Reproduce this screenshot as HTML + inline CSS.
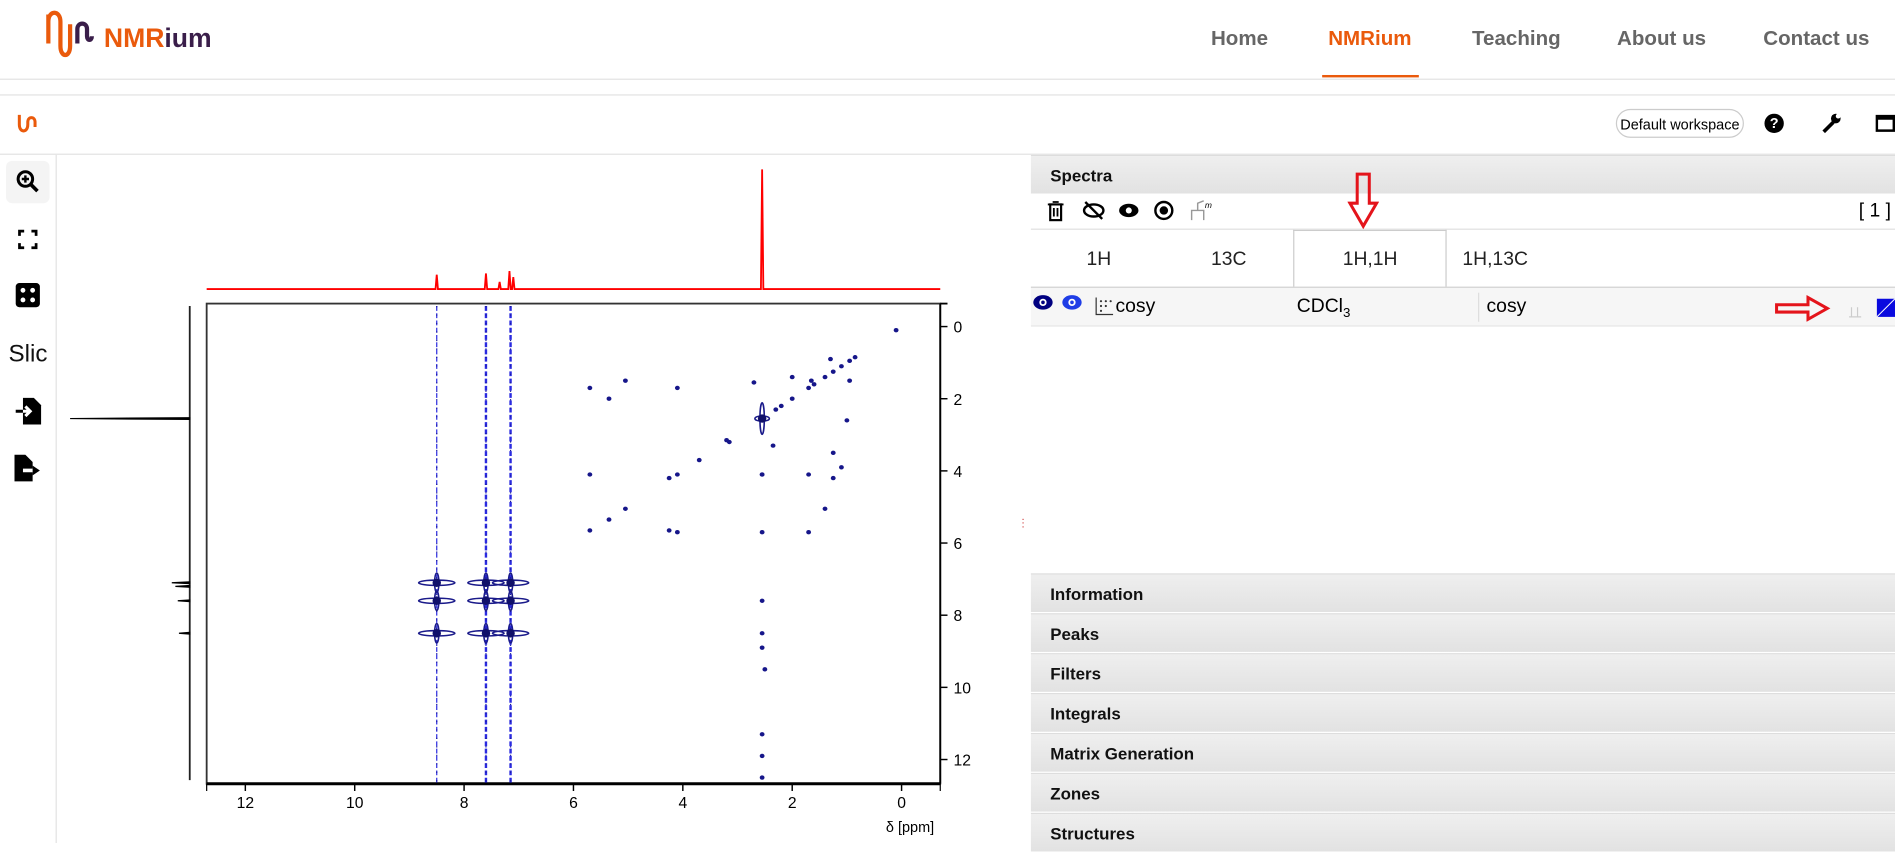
<!DOCTYPE html>
<html><head><meta charset="utf-8">
<style>
html,body{margin:0;padding:0;width:1895px;height:843px;overflow:hidden;background:#fff;font-family:"Liberation Sans",sans-serif}
#wrap{position:absolute;left:0;top:0;width:1568px;height:697px;transform:scale(1.20855,1.2095);transform-origin:0 0}
.abs{position:absolute}
.nav{position:absolute;top:22px;font-size:17px;color:#666;font-weight:bold}
.hdr{position:absolute;left:853px;width:715px;height:32px;background:linear-gradient(#efefef,#e2e2e2);border-top:1px solid #ddd;font-weight:bold;font-size:14px;line-height:32px;box-sizing:border-box;padding-left:16px;color:#111}
.tab{position:absolute;top:206px;font-size:16px;color:#222}
</style></head><body>
<div id="wrap">
<!-- header -->
<svg class="abs" style="left:36px;top:8px" width="145" height="42">
<path d="M4 4 V28 M4 10 C4 0 14 0 14 10 V30 C14 40 22 40 22 30 V12" stroke="#ea5a0c" stroke-width="3.5" fill="none"/>
<path d="M28 28 V16 C28 10 36 10 36 16 V22 C36 26 40 26 40 22" stroke="#3a1e4a" stroke-width="3.5" fill="none"/>
<text x="50" y="31" font-size="22" font-weight="bold" fill="#ea5a0c" font-family="Liberation Sans">NMR<tspan fill="#3a1e4a">ium</tspan></text>
</svg>
<div class="nav" style="left:1002px">Home</div>
<div class="nav" style="left:1099px;color:#ea5a0c">NMRium</div>
<div class="abs" style="left:1094px;top:62px;width:80px;height:2px;background:#ea5a0c"></div>
<div class="nav" style="left:1218px">Teaching</div>
<div class="nav" style="left:1338px">About us</div>
<div class="nav" style="left:1459px">Contact us</div>
<div class="abs" style="left:0;top:65px;width:1568px;height:1px;background:#e2e2e2"></div>
<div class="abs" style="left:0;top:78px;width:1568px;height:1px;background:#e2e2e2"></div>
<!-- toolbar -->
<svg class="abs" style="left:14px;top:93px" width="18" height="20"><path d="M2 2 V10 C2 17 9 17 9 10 V8 C9 3 15 3 15 8 V12" stroke="#ea5a0c" stroke-width="2.5" fill="none"/></svg>
<div class="abs" style="left:1337px;top:90px;width:106px;height:24px;border:1px solid #ccc;border-radius:12px;font-size:12px;line-height:24px;text-align:center;box-sizing:border-box">Default workspace</div>
<div class="abs" style="left:1460px;top:94px;width:16px;height:16px;border-radius:8px;background:#000;color:#fff;font-size:12px;font-weight:bold;text-align:center;line-height:16px">?</div>
<svg class="abs" style="left:1506px;top:93px" width="18" height="18"><path d="M3 16 L11 8" stroke="#000" stroke-width="3"/><circle cx="13" cy="5" r="4" fill="#000"/><circle cx="15" cy="3" r="2" fill="#fff"/></svg>
<div class="abs" style="left:1552px;top:95px;width:16px;height:14px;border:2px solid #000;border-top-width:4px;box-sizing:border-box"></div>
<div class="abs" style="left:0;top:127px;width:1568px;height:1px;background:#e2e2e2"></div>
<!-- left sidebar -->
<div class="abs" style="left:46px;top:128px;width:1px;height:569px;background:#e2e2e2"></div>
<div class="abs" style="left:5px;top:133px;width:36px;height:35px;background:#f4f4f4;border-radius:5px"></div>
<svg class="abs" style="left:13px;top:140px" width="20" height="20"><circle cx="8" cy="8" r="6" stroke="#000" stroke-width="2.5" fill="none"/><path d="M12 12 L18 18" stroke="#000" stroke-width="3"/><path d="M8 5 V11 M5 8 H11" stroke="#000" stroke-width="2"/></svg>
<svg class="abs" style="left:15px;top:190px" width="16" height="16"><path d="M1 5 V1 H5 M11 1 H15 V5 M15 11 V15 H11 M5 15 H1 V11" stroke="#000" stroke-width="2.5" fill="none"/></svg>
<svg class="abs" style="left:12px;top:233px" width="22" height="22"><rect x="1" y="1" width="20" height="20" rx="3" fill="#000"/><circle cx="7" cy="7" r="2" fill="#fff"/><circle cx="15" cy="7" r="2" fill="#fff"/><circle cx="7" cy="15" r="2" fill="#fff"/><circle cx="15" cy="15" r="2" fill="#fff"/></svg>
<div class="abs" style="left:7px;top:282px;font-size:20px;color:#111">Slic</div>
<svg class="abs" style="left:12px;top:328px" width="24" height="24"><path d="M7 1 H16 L22 7 V23 H7 Z" fill="#000"/><path d="M1 12 H12 M9 8 L13 12 L9 16" stroke="#fff" stroke-width="2.5" fill="none"/><path d="M1 12 H7" stroke="#000" stroke-width="2.5"/></svg>
<svg class="abs" style="left:11px;top:375px" width="24" height="24"><path d="M1 1 H10 L16 7 V23 H1 Z" fill="#000"/><path d="M8 14 H20" stroke="#fff" stroke-width="3"/><path d="M16 10 L22 14 L16 18 Z" fill="#000"/></svg>
<!-- chart -->
<svg id="chart" class="abs" style="left:47px;top:128px" width="796" height="569"></svg>
<!-- splitter -->
<div class="abs" style="left:845px;top:428px;font-size:9px;color:#c33;line-height:3px">·<br>·<br>·</div>
<!-- right panel -->
<div class="abs" style="left:853px;top:128px;width:715px;height:569px;background:#fff"></div>
<div class="hdr" style="top:128px">Spectra</div>
<svg class="abs" style="left:864px;top:164px" width="145" height="22">
<g><rect x="5" y="5" width="9" height="13" stroke="#000" stroke-width="1.8" fill="none"/><path d="M3 5 H16 M7 3 H12 M8 8 V15 M11 8 V15" stroke="#000" stroke-width="1.5"/></g>
<g><ellipse cx="41" cy="10" rx="8" ry="5" stroke="#000" stroke-width="2" fill="none"/><path d="M34 3 L48 17" stroke="#000" stroke-width="2"/></g>
<g><ellipse cx="70" cy="10" rx="8" ry="5.5" fill="#000"/><circle cx="70" cy="10" r="2.5" fill="#fff"/></g>
<g><circle cx="99" cy="10" r="7" stroke="#000" stroke-width="2" fill="none"/><circle cx="99" cy="10" r="3.5" fill="#000"/></g>
<g><path d="M122 18 V10 H132 V18 M127 10 V4 L132 2" stroke="#999" stroke-width="1.2" fill="none"/><text x="133" y="8" font-size="7" font-style="italic">m</text></g>
</svg>
<div class="abs" style="left:1538px;top:166px;font-size:16px">[ 1 ]</div>
<div class="abs" style="left:853px;top:189px;width:715px;height:1px;background:#e0e0e0"></div>
<div class="abs" style="left:1070px;top:190px;width:127px;height:47px;border:1px solid #ccc;border-bottom:none;box-sizing:border-box;background:#fff"></div>
<div class="tab" style="left:899px">1H</div>
<div class="tab" style="left:1002px">13C</div>
<div class="tab" style="left:1111px">1H,1H</div>
<div class="tab" style="left:1210px">1H,13C</div>
<div class="abs" style="left:853px;top:237px;width:715px;height:1px;background:#ccc"></div>
<div class="abs" style="left:853px;top:238px;width:715px;height:31px;background:#f6f6f6;border-bottom:1px solid #e6e6e6"></div>
<svg class="abs" style="left:853px;top:243px" width="70" height="20">
<g><ellipse cx="10" cy="7" rx="8" ry="6" fill="#000080"/><circle cx="10" cy="7" r="3" fill="#fff"/><circle cx="10" cy="7" r="1.5" fill="#000080"/></g>
<g><ellipse cx="34" cy="7" rx="8" ry="6" fill="#1f3de6"/><circle cx="34" cy="7" r="3" fill="#fff"/><circle cx="34" cy="7" r="1.5" fill="#1f3de6"/></g>
<path d="M54 3 V17 H68" stroke="#333" stroke-width="1" fill="none"/><g fill="#333"><circle cx="58" cy="6" r="0.9"/><circle cx="62" cy="6" r="0.9"/><circle cx="58" cy="10" r="0.9"/><circle cx="62" cy="10" r="0.9"/><circle cx="58" cy="14" r="0.9"/><circle cx="66" cy="6" r="0.9"/></g>
</svg>
<div class="abs" style="left:923px;top:245px;font-size:16px">cosy</div>
<div class="abs" style="left:1073px;top:245px;font-size:16px">CDCl<sub style="font-size:11px">3</sub></div>
<div class="abs" style="left:1223px;top:242px;width:1px;height:24px;background:#ddd"></div>
<div class="abs" style="left:1230px;top:245px;font-size:16px">cosy</div>
<svg class="abs" style="left:1468px;top:244px" width="100" height="22">
<path d="M2 8 H28 V2 L44 11 L28 20 V14 H2 Z" stroke="#e4141b" stroke-width="2.5" fill="none"/>
<path d="M64 18 V10 M69 18 V10 M62 18 H72" stroke="#ccc" stroke-width="1"/>
<g><rect x="85" y="3" width="15" height="15" fill="#0a0adf"/><path d="M85 18 L100 3" stroke="#fff" stroke-width="0.8"/></g>
</svg>
<svg class="abs" style="left:1115px;top:142px" width="26" height="48"><path d="M8 2 H18 V26 H24 L13 45 L2 26 H8 Z" stroke="#e4141b" stroke-width="2.5" fill="none"/></svg>
<div class="hdr" style="top:474px">Information</div>
<div class="hdr" style="top:507px">Peaks</div>
<div class="hdr" style="top:540px">Filters</div>
<div class="hdr" style="top:573px">Integrals</div>
<div class="hdr" style="top:606px">Matrix Generation</div>
<div class="hdr" style="top:639px">Zones</div>
<div class="hdr" style="top:672px">Structures</div>
</div>
<script>
// chart data (ppm)
const xTicks=[12,10,8,6,4,2,0];
const yTicks=[0,2,4,6,8,10,12];
const topPeakPos=[8.5,7.6,7.35,7.17,7.1,2.55];
const topPeakHeight=[12,13,6,15,10,100];
const leftPeakPos=[2.55,7.1,7.2,7.6,8.5];
const leftPeakHeight=[100,15,12,10,9];
const streakPos=[8.5,7.6,7.15];
const strongX=[8.5,8.5,8.5,7.6,7.6,7.6,7.15,7.15,7.15,2.55];
const strongY=[7.1,7.6,8.5,7.1,7.6,8.5,7.1,7.6,8.5,2.55];
const peakX=[0.1,0.85,0.95,1.1,1.25,1.4,1.6,1.7,2.0,2.2,2.3,3.15,3.2,3.7,4.1,4.25,5.05,5.35,5.7,1.3,2.0,1.65,5.05,5.7,5.35,4.1,5.7,4.1,4.25,1.7,1.25,1.4,1.7,1.25,2.55,2.55,2.55,2.55,2.55,2.5,2.55,2.55,2.55,2.55,2.7,0.95,1.1,1.0,2.35];
const peakY=[0.1,0.85,0.95,1.1,1.25,1.4,1.6,1.7,2.0,2.2,2.3,3.2,3.15,3.7,4.1,4.2,5.05,5.35,5.65,0.9,1.4,1.5,1.5,1.7,2.0,1.7,4.1,5.7,5.65,4.1,4.2,5.05,5.7,3.5,4.1,5.7,7.6,8.5,8.9,9.5,11.3,11.9,12.5,4.1,1.55,1.5,3.9,2.6,3.3];
const svg=document.getElementById('chart');
const NS='http://www.w3.org/2000/svg';
const OX=47,OY=128;
const L=171-OX,R=778-OX,T=251-OY,B=648-OY;
const xs=v=>(746-OX)-45.25*v;
const ys=v=>(270-OY)+29.83*v;
function mk(t,a,p){const e=document.createElementNS(NS,t);for(const k in a)e.setAttribute(k,a[k]);(p||svg).appendChild(e);return e;}
// top 1D spectrum
let base=239-OY,d='M'+L+' '+base;
const topSorted=topPeakPos.map((p,i)=>[p,topPeakHeight[i]]).sort((a,b)=>b[0]-a[0]);
topSorted.forEach(([p,h])=>{const x=xs(p);d+=' L'+(x-1)+' '+base+' L'+x+' '+(base-h*0.99)+' L'+(x+1)+' '+base;});
d+=' L'+R+' '+base;
const top1d=mk('path',{d:d,stroke:'#f00',fill:'none','stroke-width':1.5});


// left 1D
const lx=157-OX;
mk('line',{x1:lx,y1:253-OY,x2:lx,y2:645-OY,stroke:'#222','stroke-width':1.5});
leftPeakPos.forEach((p,i)=>{const y=ys(p);const l=mk('path',{d:'M'+lx+' '+(y-0.7)+' L'+(lx-leftPeakHeight[i]*0.99)+' '+y+' L'+lx+' '+(y+0.7)+' Z',stroke:'#000','stroke-width':1,fill:'#000'});

});
// frame
const fr=mk('rect',{x:L,y:T,width:R-L,height:B-T,fill:'none',stroke:'#333','stroke-width':1.5});


mk('line',{x1:L,y1:B,x2:R,y2:B,stroke:'#000','stroke-width':2.5});
// streaks
streakPos.forEach(p=>{const x=xs(p);const s=mk('line',{x1:x,y1:T+2,x2:x,y2:B-1,stroke:'#2a2ae0','stroke-width':p==8.5?1:2,'stroke-dasharray':'4 2'});


mk('line',{x1:x,y1:T+2,x2:x,y2:B-1,stroke:'#1a1a9a','stroke-width':1,'stroke-dasharray':'1 6'});});
// strong peaks
strongX.forEach((p,i)=>{const x=xs(p),y=ys(strongY[i]);const g=mk('g',{});


mk('ellipse',{cx:x,cy:y,rx:p==2.55?6:15,ry:2.2,fill:'none',stroke:'#1a1a8a','stroke-width':1.3},g);
mk('ellipse',{cx:x,cy:y,rx:1.8,ry:p==2.55?13:8,fill:'none',stroke:'#1a1a8a','stroke-width':1.3},g);
mk('circle',{cx:x,cy:y,r:3.5,fill:'#10106a'},g);});
// peaks
peakX.forEach((p,i)=>{const c=mk('ellipse',{cx:xs(p),cy:ys(peakY[i]),rx:2,ry:1.8,fill:'#16168a'});

});
// x axis ticks
xTicks.forEach(v=>{const x=xs(v);mk('line',{x1:x,y1:B,x2:x,y2:B+6,stroke:'#000','stroke-width':1.2});
const t=mk('text',{x:x,y:B+20,'font-size':13,'text-anchor':'middle','font-family':'Liberation Sans'});t.textContent=v;

});
mk('line',{x1:L,y1:B,x2:L,y2:B+6,stroke:'#000'});mk('line',{x1:R,y1:B,x2:R,y2:B+6,stroke:'#000'});
const xt=mk('text',{x:R-5,y:B+40,'font-size':12,'text-anchor':'end','font-family':'Liberation Sans'});xt.textContent='δ [ppm]';


// y axis
mk('line',{x1:R,y1:T,x2:R,y2:B,stroke:'#000','stroke-width':1.5});
mk('line',{x1:R,y1:T,x2:R+6,y2:T,stroke:'#000','stroke-width':1.5});
yTicks.forEach(v=>{const y=ys(v);mk('line',{x1:R,y1:y,x2:R+6,y2:y,stroke:'#000','stroke-width':1.2});
const t=mk('text',{x:R+11,y:y+5,'font-size':13,'font-family':'Liberation Sans'});t.textContent=v;

});
</script>
</body></html>
